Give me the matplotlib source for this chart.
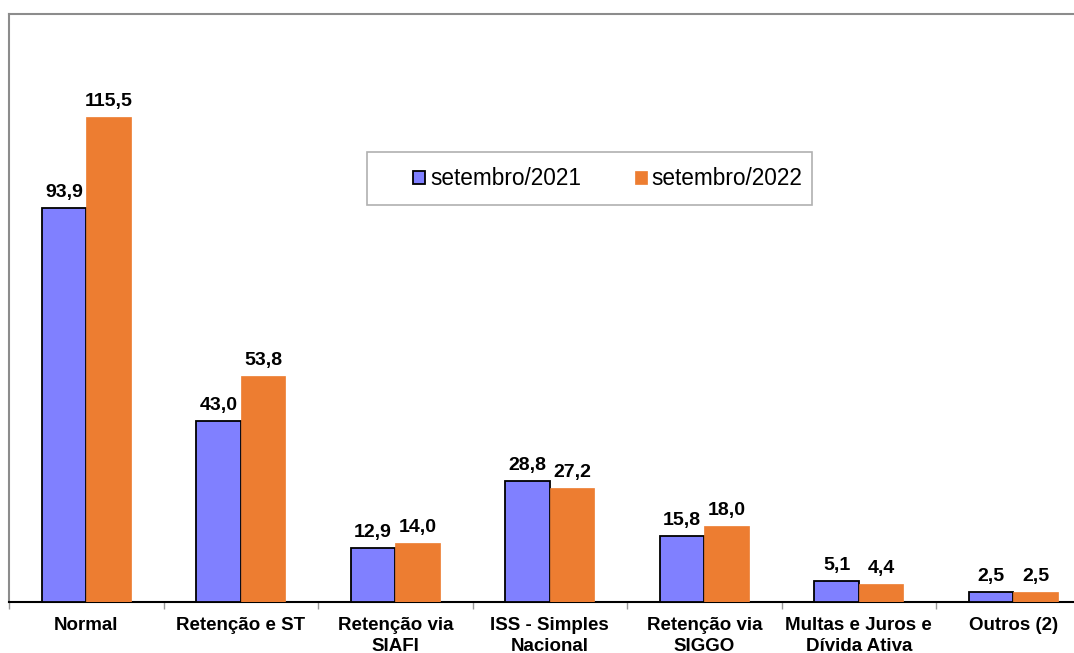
import matplotlib
matplotlib.use("Agg")
import matplotlib.pyplot as plt
from matplotlib.patches import Rectangle
import numpy as np

# data
categorias = ["Normal", "Retenção e ST", "Retenção via\nSIAFI", "ISS - Simples\nNacional",
              "Retenção via\nSIGGO", "Multas e Juros e\nDívida Ativa", "Outros (2)"]
set_2021 = [93.9, 43.0, 12.9, 28.8, 15.8, 5.1, 2.5]
set_2022 = [115.5, 53.8, 14.0, 27.2, 18.0, 4.4, 2.5]
series_names = ["setembro/2021", "setembro/2022"]

plt.rcParams['font.family'] = ['Liberation Sans', 'DejaVu Sans']

W, H = 1074, 653
fig = plt.figure(figsize=(W / 100, H / 100), dpi=100)
# plot area: left 9px, baseline 602px, top 14px, right edge runs past the picture
ax = fig.add_axes([9 / W, (H - 602) / H, 1081.5 / W, 588 / H])

x = np.arange(len(categorias))
bw = 0.288
b1 = ax.bar(x - bw / 2, set_2021, bw, color="#8080FF", edgecolor="#000000", linewidth=1.3,
            label=series_names[0], zorder=3)
b2 = ax.bar(x + bw / 2, set_2022, bw, color="#ED7D31", edgecolor="#ED7D31", linewidth=0.5,
            label=series_names[1], zorder=3)

def fmt(v):
    return f"{v:.1f}".replace(".", ",")

for bars, vals in [(b1, set_2021), (b2, set_2022)]:
    for r, v in zip(bars, vals):
        ax.annotate(fmt(v), (r.get_x() + r.get_width() / 2, v), xytext=(0, 5),
                    textcoords="offset points", ha="center", va="bottom",
                    fontsize=14, fontweight="bold")

ax.set_xlim(-0.5, len(categorias) - 0.5)
ax.set_ylim(0, 140)
ax.set_yticks([])

ax.set_xticks(x)
ax.set_xticklabels(categorias, fontsize=13.5, fontweight="bold", linespacing=1.25)
ax.tick_params(axis="x", which="major", length=0, pad=11)
ax.set_xticks(np.arange(-0.5, len(categorias), 1), minor=True)
ax.tick_params(axis="x", which="minor", length=5, width=1, color="#999999", direction="out")

for s in ["left", "top", "right"]:
    ax.spines[s].set_color("#8c8c8c")
    ax.spines[s].set_linewidth(1.5)
ax.spines["bottom"].set_color("#000000")
ax.spines["bottom"].set_linewidth(1.5)

# legend box drawn by hand (wide side padding, as in the reference)
fig.patches.append(Rectangle((367 / W, 1 - 205 / H), 445 / W, 53 / H,
                             transform=fig.transFigure, facecolor="white",
                             edgecolor="#b0b0b0", linewidth=1.2, zorder=4))
leg = fig.legend(handles=[b1, b2], labels=series_names, loc="center",
                 bbox_to_anchor=(608 / W, 1 - 179 / H), ncol=2, fontsize=16.3,
                 frameon=False, handlelength=0.53, handleheight=0.53, handletextpad=0.2,
                 columnspacing=2.4, borderpad=0, borderaxespad=0)
leg.set_zorder(5)

fig.savefig("out.png", dpi=100)
